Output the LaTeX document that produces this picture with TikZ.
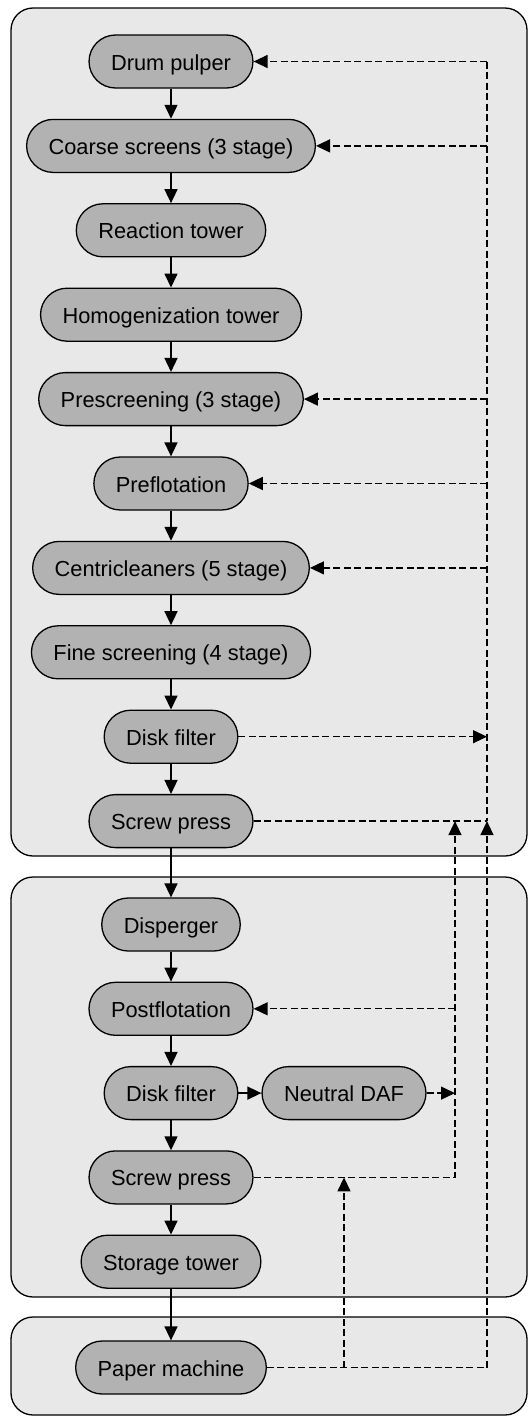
\documentclass[tikz,border=0pt]{standalone}
\usepackage{fontspec}
\setmainfont{Liberation Sans}
\usetikzlibrary{arrows.meta}
\definecolor{boxgray}{RGB}{232,232,232}
\definecolor{nodegray}{RGB}{178,178,178}
\begin{document}
\begin{tikzpicture}[x=1pt,y=-1pt,
 group/.style={draw=black, fill=boxgray, line width=1.3pt, rounded corners=22pt},
 proc/.style={draw=black, fill=nodegray, line width=1.3pt, rounded corners=26.5pt, minimum height=53pt, inner xsep=22pt, inner ysep=0pt, text height=17pt, text depth=0pt, font=\fontsize{21.8}{26}\selectfont},
 flow/.style={line width=1.5pt, -{Triangle[length=14pt,width=13pt]}},
 ret/.style={line width=1.35pt, dash pattern=on 7pt off 3.5pt},
 reta/.style={ret, -{Triangle[length=14pt,width=13pt]}}]
\useasboundingbox (0,0) rectangle (528,1416);
% group boxes
\draw[group] (11,8) rectangle (527,856);
\draw[group] (11,877) rectangle (527,1297);
\draw[group] (11,1317) rectangle (527,1415);
% helper coordinates for the return lines
\coordinate (A) at (487,0);
\coordinate (B) at (455,0);
\coordinate (C) at (344,0);
% process nodes
\node[proc] (drum)  at (171,61.5)  {Drum pulper};
\node[proc] (coarse) at (171,145.9) {Coarse screens (3 stage)};
\node[proc] (react) at (171,230.3) {Reaction tower};
\node[proc] (homog) at (171,314.7) {Homogenization tower};
\node[proc] (presc) at (171,399.1) {Prescreening (3 stage)};
\node[proc] (prefl) at (171,483.5) {Preflotation};
\node[proc] (centr) at (171,567.9) {Centricleaners (5 stage)};
\node[proc] (fine)  at (171,652.3) {Fine screening (4 stage)};
\node[proc] (dfa)   at (171,736.7) {Disk filter};
\node[proc] (spa)   at (171,821.1) {Screw press};
\node[proc] (disp)  at (171,924.5) {Disperger};
\node[proc] (postf) at (171,1008.8) {Postflotation};
\node[proc] (dfb)   at (171,1093.1) {Disk filter};
\node[proc] (daf)   at (344,1093.1) {Neutral DAF};
\node[proc] (spb)   at (171,1177.4) {Screw press};
\node[proc] (stor)  at (171,1261.7) {Storage tower};
\node[proc] (pm)    at (171,1367.5) {Paper machine};
% main flow
\draw[flow] (drum) -- (coarse);
\draw[flow] (coarse) -- (react);
\draw[flow] (react) -- (homog);
\draw[flow] (homog) -- (presc);
\draw[flow] (presc) -- (prefl);
\draw[flow] (prefl) -- (centr);
\draw[flow] (centr) -- (fine);
\draw[flow] (fine) -- (dfa);
\draw[flow] (dfa) -- (spa);
\draw[flow] (spa) -- (disp);
\draw[flow] (disp) -- (postf);
\draw[flow] (postf) -- (dfb);
\draw[flow] (dfb) -- (spb);
\draw[flow] (dfb) -- (daf);
\draw[flow] (spb) -- (stor);
\draw[flow] (stor) -- (pm);
% return line A
\draw[ret] (drum.east -| A) -- (spa.east -| A);
\draw[reta] (drum.east -| A) -- (drum.east);
\draw[reta] (coarse.east -| A) -- (coarse.east);
\draw[reta] (presc.east -| A) -- (presc.east);
\draw[reta] (prefl.east -| A) -- (prefl.east);
\draw[reta] (centr.east -| A) -- (centr.east);
\draw[reta] (dfa.east) -- (dfa.east -| A);
\draw[ret] (spa.east) -- (spa.east -| A);
\draw[ret] (pm.east) -- (pm.east -| A);
\draw[reta] (pm.east -| A) -- (spa.east -| A);
% return line B
\draw[reta] (spb.east) -- (spb.east -| B) -- (spa.east -| B);
\draw[reta] (postf.east -| B) -- (postf.east);
\draw[reta] (daf.east) -- (daf.east -| B);
% return line C
\draw[reta] (pm.east -| C) -- (spb.east -| C);
\end{tikzpicture}
\end{document}
